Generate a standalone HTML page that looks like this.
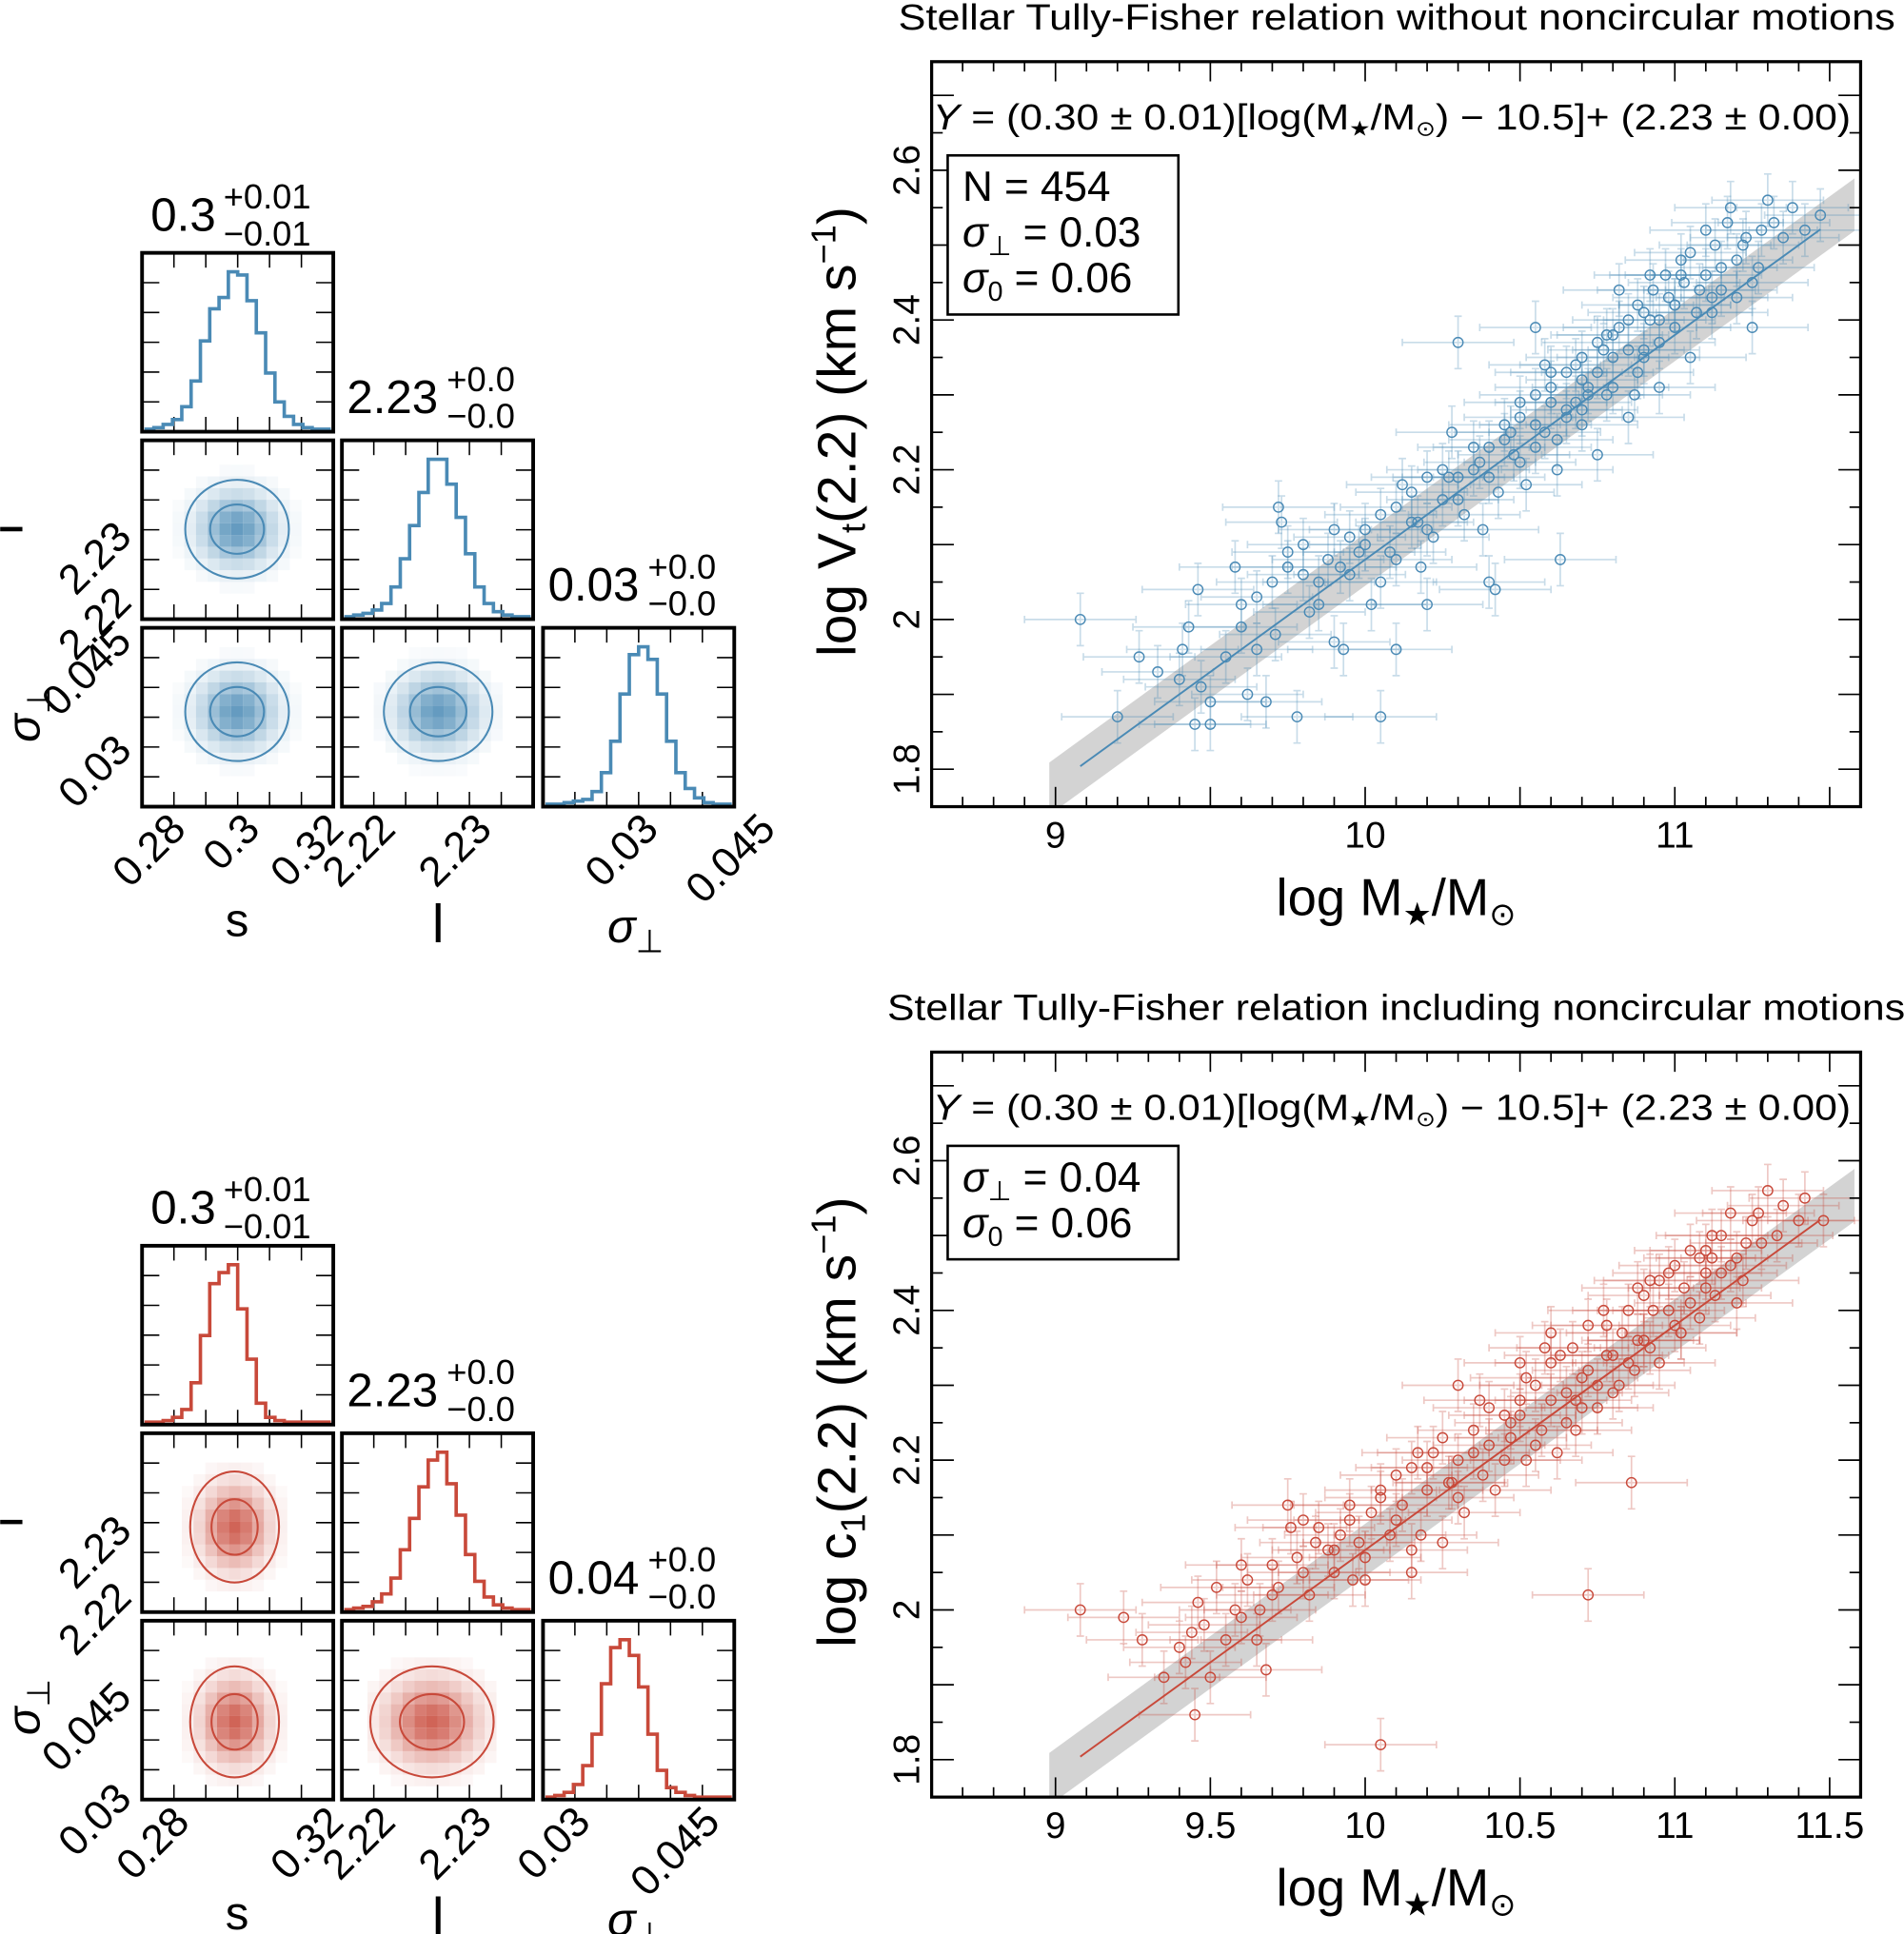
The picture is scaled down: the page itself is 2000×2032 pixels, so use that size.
<!DOCTYPE html>
<html><head><meta charset="utf-8">
<style>
html,body{margin:0;padding:0;background:#fff;}
svg{display:block;}
text{font-family:"Liberation Sans","DejaVu Sans",sans-serif;fill:#000;}
</style></head>
<body>
<svg id="fig" width="2000" height="2032" viewBox="0 0 1543 1568" xmlns="http://www.w3.org/2000/svg">
<rect width="1543" height="1568" fill="#fff"/>
</svg>
<script>
// ---- scatter data (top: without noncircular motions) ----
const topX=[9.08,9.2,9.27,9.33,9.4,9.41,9.43,9.45,9.46,9.47,9.5,9.5,9.55,9.58,9.6,9.6,9.62,9.65,9.68,9.7,9.71,9.72,9.73,9.75,9.78,9.8,9.8,9.82,9.85,9.88,9.9,9.92,9.93,9.95,9.98,10.0,10.02,10.05,10.05,10.08,10.1,10.1,10.12,10.15,10.18,10.2,10.2,10.22,10.25,10.28,10.3,10.32,10.35,10.38,10.4,10.4,10.42,10.43,10.45,10.48,10.5,10.52,10.55,10.55,10.58,10.6,10.62,10.63,10.65,10.68,10.7,10.72,10.75,10.75,10.78,10.8,10.82,10.85,10.85,10.88,10.9,10.92,10.95,10.98,11.0,11.02,11.05,11.08,11.1,11.12,11.15,11.18,11.2,11.22,11.25,11.28,11.3,11.35,11.42,11.47,10.3,10.55,10.95,11.25,10.6,10.7,10.8,10.65,10.9,11.0,
 9.65,9.75,9.85,9.9,9.95,10.0,10.05,10.1,10.15,10.2,10.25,10.3,10.35,10.4,10.45,10.5,10.5,10.55,10.6,10.62,10.65,10.7,10.7,10.72,10.75,10.78,10.8,10.82,10.85,10.88,10.9,10.93,10.95,10.97,11.0,11.03,11.05,11.07,11.1,11.13,11.15,11.17,11.2,11.23,11.27,11.32,11.38,10.58,10.68,10.77,10.87,10.47,10.37,10.27,10.17,11.12,11.02,10.92];
const topY=[2.00,1.87,1.95,1.93,1.92,1.96,1.99,1.86,2.04,1.91,1.86,1.89,1.95,2.07,2.02,1.99,1.90,1.96,1.89,2.05,1.98,2.15,2.13,2.07,1.87,2.06,2.10,2.01,2.05,2.08,1.97,2.07,1.96,2.11,2.09,2.12,2.02,2.05,1.87,2.09,2.15,1.96,2.18,2.13,2.07,2.02,2.19,2.11,2.16,2.25,2.19,2.14,2.2,2.12,2.23,2.05,2.04,2.17,2.26,2.22,2.27,2.18,2.23,2.30,2.25,2.33,2.20,2.08,2.28,2.34,2.26,2.31,2.37,2.22,2.30,2.35,2.44,2.27,2.40,2.33,2.41,2.46,2.37,2.43,2.39,2.48,2.35,2.44,2.52,2.41,2.47,2.55,2.43,2.50,2.45,2.52,2.56,2.51,2.52,2.54,2.37,2.39,2.31,2.39,2.29,2.32,2.38,2.27,2.36,2.42,
 2.03,2.09,2.02,2.12,2.06,2.10,2.14,2.08,2.17,2.12,2.20,2.16,2.23,2.19,2.24,2.21,2.29,2.26,2.31,2.24,2.33,2.28,2.35,2.30,2.33,2.38,2.31,2.39,2.36,2.42,2.35,2.44,2.40,2.46,2.42,2.45,2.49,2.41,2.46,2.50,2.44,2.53,2.48,2.51,2.47,2.53,2.55,2.34,2.29,2.36,2.30,2.25,2.21,2.19,2.13,2.43,2.46,2.40];
// ---- scatter data (bottom: including noncircular motions) ----
const botX=[9.08,9.22,9.28,9.35,9.4,9.42,9.44,9.45,9.46,9.48,9.5,9.52,9.55,9.58,9.6,9.62,9.65,9.66,9.68,9.7,9.72,9.75,9.76,9.78,9.8,9.82,9.84,9.85,9.88,9.9,9.92,9.95,9.96,9.98,10.0,10.02,10.05,10.05,10.08,10.1,10.12,10.15,10.15,10.18,10.2,10.22,10.25,10.28,10.3,10.32,10.35,10.38,10.4,10.42,10.45,10.47,10.5,10.52,10.55,10.57,10.6,10.62,10.65,10.67,10.7,10.72,10.75,10.78,10.8,10.82,10.85,10.88,10.9,10.92,10.95,10.98,11.0,11.02,11.05,11.08,11.1,11.12,11.15,11.18,11.2,11.22,11.25,11.28,11.3,11.35,11.42,11.48,10.72,10.86,10.3,10.6,10.9,11.1,10.68,10.5,
 9.6,9.7,9.8,9.9,9.95,10.0,10.05,10.1,10.15,10.2,10.25,10.3,10.35,10.4,10.45,10.5,10.52,10.55,10.6,10.63,10.65,10.7,10.72,10.75,10.78,10.8,10.83,10.85,10.88,10.9,10.93,10.95,10.98,11.0,11.03,11.05,11.08,11.1,11.13,11.15,11.18,11.2,11.23,11.27,11.33,11.4,10.58,10.68,10.77,10.87,10.47,10.37,10.27,10.17,11.12,11.02,10.92];
const botY=[2.00,1.99,1.96,1.91,1.95,1.93,1.97,1.86,2.01,1.98,1.91,2.03,1.96,2.00,1.99,2.04,1.96,2.00,1.92,2.06,2.03,2.14,2.11,2.07,2.05,2.02,2.09,2.11,2.08,2.05,2.10,2.12,2.04,2.09,2.07,2.13,2.15,1.82,2.10,2.18,2.14,2.19,2.05,2.10,2.16,2.21,2.09,2.17,2.20,2.13,2.24,2.18,2.22,2.16,2.26,2.23,2.28,2.20,2.30,2.24,2.33,2.21,2.29,2.35,2.27,2.32,2.30,2.38,2.34,2.30,2.40,2.36,2.42,2.35,2.44,2.40,2.46,2.37,2.41,2.47,2.43,2.50,2.45,2.53,2.47,2.44,2.52,2.49,2.56,2.54,2.55,2.52,2.02,2.17,2.30,2.37,2.36,2.48,2.24,2.33,
 2.06,2.02,2.12,2.08,2.14,2.04,2.16,2.12,2.08,2.19,2.23,2.15,2.21,2.27,2.20,2.26,2.31,2.22,2.28,2.34,2.25,2.31,2.38,2.27,2.34,2.29,2.37,2.33,2.43,2.36,2.40,2.33,2.45,2.38,2.43,2.48,2.39,2.45,2.42,2.50,2.46,2.41,2.49,2.53,2.50,2.52,2.35,2.28,2.40,2.32,2.25,2.28,2.17,2.21,2.47,2.37,2.44];
const xErr=[0.18];
const yErr=[0.035];
// ---- corner histograms (counts per bin) ----
const histS1=[0,1,3,6,14,30,55,75,82,98,96,80,60,35,17,8,3,1,0,0];
const histL1=[0,1,2,4,8,18,35,55,75,95,95,80,60,38,18,8,3,1,0,0];
const histP1=[0,0,1,2,3,8,20,40,70,95,100,92,70,40,20,10,4,1,0,0];
const histS2=[0,0,1,3,8,25,55,88,95,100,72,40,12,3,1,0,0,0,0,0];
const histL2=[0,1,2,5,10,20,38,58,78,95,100,80,60,35,18,8,3,1,0,0];
const histP2=[0,1,3,8,20,40,72,95,100,90,70,40,17,6,3,1,0,0,0,0];
// fit
const fitSlope=[0.30], fitPivot=[10.5], fitIntercept=[2.23], bandHalf=[0.035];

const svg=document.getElementById('fig');
const NS='http://www.w3.org/2000/svg';
function el(tag,attrs,parent){const e=document.createElementNS(NS,tag);for(const k in attrs)e.setAttribute(k,attrs[k]);(parent||svg).appendChild(e);return e;}
function txt(s,attrs,parent){const t=el('text',attrs,parent);t.textContent=s;return t;}

function scatterPanel(cfg){
  const L=755,R=1508,T=cfg.top,B=cfg.top+604;
  const xmin=8.6,xmax=11.6,ymin=1.75,ymax=2.745;
  const sx=v=>L+(v-xmin)/(xmax-xmin)*(R-L);
  const sy=v=>B-(v-ymin)/(ymax-ymin)*(B-T);
  const g=el('g',{});
  
  
  const cid='clip'+cfg.top;
  const cp=el('clipPath',{id:cid},g);el('rect',{x:L,y:T,width:R-L,height:B-T},cp);
  const inner=el('g',{'clip-path':'url(#'+cid+')'},g);
  const x0=8.98,x1=11.58,f=x=>fitSlope[0]*(x-fitPivot[0])+fitIntercept[0];
  const band=el('polygon',{points:`${sx(x0)},${sy(f(x0)+bandHalf[0])} ${sx(x1)},${sy(f(x1)+bandHalf[0])} ${sx(x1)},${sy(f(x1)-bandHalf[0])} ${sx(x0)},${sy(f(x0)-bandHalf[0])}`,fill:'#d3d3d3'},inner);
  
  
  const eg=el('g',{stroke:cfg.color,'stroke-opacity':0.3,'stroke-width':1.3,fill:'none'},inner);
  for(let i=0;i<cfg.xs.length;i++){
    const x=cfg.xs[i],y=cfg.ys[i];
    const a=sx(x-xErr[0]),b=sx(x+xErr[0]),c=sy(y+yErr[0]),d=sy(y-yErr[0]),px=sx(x),py=sy(y);
    el('path',{d:`M${a},${py}H${b}M${px},${c}V${d}M${a},${py-3}V${py+3}M${b},${py-3}V${py+3}M${px-3},${c}H${px+3}M${px-3},${d}H${px+3}`},eg);
  }
  const line=el('line',{x1:sx(9.08),y1:sy(f(9.08)),x2:sx(11.47),y2:sy(f(11.47)),stroke:cfg.color,'stroke-width':1.5},inner);
  
  
  for(let i=0;i<cfg.xs.length;i++){
    const c=el('circle',{cx:sx(cfg.xs[i]),cy:sy(cfg.ys[i]),r:4,fill:'none',stroke:cfg.color,'stroke-width':1.1},inner);
    
    
  }
  const tg=el('g',{stroke:'#000','stroke-width':1.3},g);
  for(let k=0;k<=30;k++){const v=8.6+k*0.1;const major=Math.abs((v*2)-Math.round(v*2))<1e-6;const len=major?16:8;const x=sx(v);
    el('line',{x1:x,y1:B,x2:x,y2:B-len},tg);el('line',{x1:x,y1:T,x2:x,y2:T+len},tg);}
  for(let k=0;k<=19;k++){const v=1.75+k*0.05;const major=Math.abs(v*10-Math.round(v*10))<1e-6;const y=sy(v);const len=major?18:9;
    el('line',{x1:L,y1:y,x2:L+len,y2:y},tg);el('line',{x1:R,y1:y,x2:R-len,y2:y},tg);}
  el('rect',{x:L,y:T,width:R-L,height:B-T,fill:'none',stroke:'#000','stroke-width':2.5},g);
  cfg.xt.forEach(v=>{const t=txt(String(v),{x:sx(v),y:B+33,'font-size':30,'text-anchor':'middle'},g);
    });
  [1.8,2,2.2,2.4,2.6].forEach(v=>{const y=sy(v);const t=txt(String(v),{x:0,y:0,'font-size':30,'text-anchor':'middle',transform:`translate(${L-10},${y}) rotate(-90)`},g);
    });
  const xl=txt('',{x:(L+R)/2,y:B+88,'font-size':42,'text-anchor':'middle'},g);
  xl.innerHTML='log M<tspan font-size="26" dy="8">★</tspan><tspan dy="-8">/M</tspan><tspan font-size="26" dy="8">⊙</tspan>';
  
  const yl=txt('',{x:0,y:0,'font-size':44,'text-anchor':'middle',transform:`translate(${L-62},${(T+B)/2-2}) rotate(-90)`},g);
  yl.innerHTML=cfg.ylab;
  
  const ti=txt(cfg.title,{x:cfg.tx,y:T-26,'font-size':29,textLength:cfg.tw,lengthAdjust:'spacingAndGlyphs'},g);
  
  const eq=txt('',{x:L+1,y:T+55,'font-size':29,textLength:744,lengthAdjust:'spacingAndGlyphs'},g);
  eq.innerHTML='<tspan font-style="italic">Y</tspan> = (0.30 ± 0.01)[log(M<tspan font-size="17" dy="5">★</tspan><tspan dy="-5">/M</tspan><tspan font-size="17" dy="5">⊙</tspan><tspan dy="-5">) − 10.5]+ (2.23 ± 0.00)</tspan>';
  
  const bh=cfg.stats.length*37+18;
  const box=el('rect',{x:768,y:T+76,width:187,height:bh,fill:'#fff',stroke:'#000','stroke-width':2},g);
  
  cfg.stats.forEach((s,i)=>{const t=txt('',{x:780,y:T+76+37+i*37,'font-size':34},g);t.innerHTML=s;
    });
}
scatterPanel({name:'tf-no-noncircular',top:50,color:'#4a8ab5',xs:topX,ys:topY,xt:[9,10,11],tx:728,tw:808,
  title:'Stellar Tully-Fisher relation without noncircular motions',
  ylab:'log V<tspan font-size="28" dy="8">t</tspan><tspan dy="-8">(2.2)  (km s</tspan><tspan font-size="28" dy="-16">−1</tspan><tspan dy="16">)</tspan>',
  stats:['N = 454','<tspan font-style="italic">σ</tspan><tspan font-size="22" dy="7">⊥</tspan><tspan dy="-7"> = 0.03</tspan>','<tspan font-style="italic">σ</tspan><tspan font-size="22" dy="7">0</tspan><tspan dy="-7"> = 0.06</tspan>']});
scatterPanel({name:'tf-with-noncircular',top:853,color:'#c8493a',xs:botX,ys:botY,xt:[9,9.5,10,10.5,11,11.5],tx:719,tw:825,
  title:'Stellar Tully-Fisher relation including noncircular motions',
  ylab:'log c<tspan font-size="28" dy="8">1</tspan><tspan dy="-8">(2.2)  (km s</tspan><tspan font-size="28" dy="-16">−1</tspan><tspan dy="16">)</tspan>',
  stats:['<tspan font-style="italic">σ</tspan><tspan font-size="22" dy="7">⊥</tspan><tspan dy="-7"> = 0.04</tspan>','<tspan font-style="italic">σ</tspan><tspan font-size="22" dy="7">0</tspan><tspan dy="-7"> = 0.06</tspan>']});

// ---- corner plots ----
function boxTicks(g,x,y,w,h,nx,ny){
  const tg=el('g',{stroke:'#000','stroke-width':1.2},g);
  for(let i=1;i<nx;i++){const xx=x+w*i/nx;el('line',{x1:xx,y1:y,x2:xx,y2:y+12},tg);el('line',{x1:xx,y1:y+h,x2:xx,y2:y+h-12},tg);}
  for(let i=1;i<ny;i++){const yy=y+h*i/ny;el('line',{x1:x,y1:yy,x2:x+14,y2:yy},tg);el('line',{x1:x+w,y1:yy,x2:x+w-14,y2:yy},tg);}
}
function hist(g,x,y,w,h,counts,color,name){
  const mx=Math.max(...counts);const n=counts.length;let d=`M${x+2},${y+h-2}`;
  counts.forEach((c,i)=>{const yy=y+h-2-(c/mx)*(h*0.88);d+=`V${yy}H${x+2+(w-4)*(i+1)/n}`;});
  d+=`V${y+h-2}`;
  const p=el('path',{d,fill:'none',stroke:color,'stroke-width':2.8},g);
  
}
function contour(g,cx,cy,rx,ry,rgb,name){
  const gg=el('g',{},g);
  
  const s=9.5;
  for(let i=-5;i<=5;i++)for(let j=-5;j<=5;j++){
    const dx=i*s,dy=j*s;const r2=(dx*dx)/(rx*rx*0.4)+(dy*dy)/(ry*ry*0.4);
    const a=0.85*Math.exp(-r2/1.2);if(a<0.03)continue;
    el('rect',{x:cx+dx-s/2,y:cy+dy-s/2,width:s,height:s,fill:rgb,'fill-opacity':a.toFixed(3)},gg);
  }
  el('ellipse',{cx,cy,rx:rx*0.52,ry:ry*0.5,fill:'none',stroke:rgb,'stroke-width':1.6},gg);
  el('ellipse',{cx,cy,rx,ry,fill:'none',stroke:rgb,'stroke-width':1.6},gg);
}
function rlab(g,s,x,y,size){const t=txt(s,{x:0,y:0,'font-size':size||34,'text-anchor':'end',transform:`translate(${x},${y}) rotate(-45)`},g);
  return t;}
function title(g,x,y,main,supX,up,dn){
  const t=txt(main,{x,y,'font-size':38},g);
  
  const u=txt(up,{x:supX,y:y-18,'font-size':28},g);
  
  const d=txt(dn,{x:supX,y:y+12,'font-size':28},g);
  
}
function corner(cfg){
  const g=el('g',{});
  
  const Y0=cfg.top,col=[115,277,440],row=[Y0,Y0+152,Y0+304],w=155,h=145,c=cfg.color;
  const cells=[[0,0],[1,0],[1,1],[2,0],[2,1],[2,2]];
  cells.forEach(([r,k])=>{boxTicks(g,col[k],row[r],w,h,6,6);});
  hist(g,col[0],row[0],w,h,cfg.hs,c,'hist-s');
  hist(g,col[1],row[1],w,h,cfg.hl,c,'hist-l');
  hist(g,col[2],row[2],w,h,cfg.hp,c,'hist-sigma');
  contour(g,cfg.c1[0],row[1]+cfg.c1[1],cfg.c1[2],cfg.c1[3],c,'contour-s-l');
  contour(g,cfg.c2[0],row[2]+cfg.c2[1],cfg.c2[2],cfg.c2[3],c,'contour-s-sigma');
  contour(g,cfg.c3[0],row[2]+cfg.c3[1],cfg.c3[2],cfg.c3[3],c,'contour-l-sigma');
  cells.forEach(([r,k])=>{const b=el('rect',{x:col[k],y:row[r],width:w,height:h,fill:'none',stroke:'#000','stroke-width':3},g);
    });
  title(g,122,Y0-18,'0.3',181,'+0.01','−0.01');
  title(g,281,row[1]-22,'2.23',362,'+0.0','−0.0');
  title(g,444,row[2]-22,cfg.ptitle,525,'+0.0','−0.0');
  cfg.xl.forEach(a=>rlab(g,a[0],a[1],row[2]+h+20));
  cfg.yl.forEach(a=>rlab(g,a[0],108,a[1]));
  const sl=txt('s',{x:192,y:row[2]+h+105,'font-size':38,'text-anchor':'middle'},g);
  
  const ll=txt('l',{x:355,y:row[2]+h+110,'font-size':44,'text-anchor':'middle'},g);
  
  const pl=txt('',{x:515,y:row[2]+h+110,'font-size':38,'text-anchor':'middle'},g);
  pl.innerHTML='<tspan font-style="italic">σ</tspan><tspan font-size="26" dy="8">⊥</tspan>';
  
  el('line',{x1:0,y1:row[1]+72,x2:18,y2:row[1]+72,stroke:'#000','stroke-width':3.5},g);
  const yp=txt('',{x:0,y:0,'font-size':38,'text-anchor':'middle',transform:`translate(32,${row[2]+70}) rotate(-90)`},g);
  yp.innerHTML='<tspan font-style="italic">σ</tspan><tspan font-size="26" dy="8">⊥</tspan>';
  
}
const blue='#4a8ab5',red='#c8493a';
corner({name:'corner-plot-top',top:205,color:blue,hs:histS1,hl:histL1,hp:histP1,
  c1:[192,72,42,40],c2:[192,68,42,40],c3:[355,68,44,40],ptitle:'0.03',
  xl:[['0.28',152],['0.3',212],['0.32',280],['2.22',322],['2.23',400],['0.03',535],['0.045',630]],
  yl:[['2.23',437],['2.22',490],['0.045',522],['0.03',610]]});
corner({name:'corner-plot-bottom',top:1010,color:red,hs:histS2,hl:histL2,hp:histP2,
  c1:[190,76,36,45],c2:[190,82,36,45],c3:[350,82,50,45],ptitle:'0.04',
  xl:[['0.28',155],['0.32',280],['2.22',322],['2.23',400],['0.03',480],['0.045',585]],
  yl:[['2.23',1243],['2.22',1297],['0.045',1378],['0.03',1460]]});
</script>
</body></html>
